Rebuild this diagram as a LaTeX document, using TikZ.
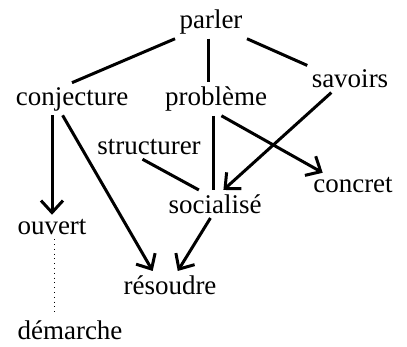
\documentclass[tikz,border=0pt]{standalone}
\usepackage{fontspec}
\setmainfont{Liberation Serif}
\usetikzlibrary{arrows.meta}
\begin{document}
\begin{tikzpicture}[x=0.5pt, y=-0.5pt, line width=1.5pt,
  mot/.style={inner sep=1.5pt, font=\fontsize{13.5}{16}\selectfont},
  fl/.style={-{Straight Barb[length=6pt, width=11pt, line width=1.5pt]}},
  >=stealth]
\useasboundingbox (0,0) rectangle (407,347);
\node[mot] (parler) at (211,22) {parler};
\node[mot] (conj) at (72,99) {conjecture};
\node[mot] (prob) at (216,99) {problème};
\node[mot] (sav) at (350,79) {savoirs};
\node[mot] (struct) at (149,147) {structurer};
\node[mot] (concret) at (353,185) {concret};
\node[mot] (soc) at (215,204) {socialisé};
\node[mot] (ouvert) at (52,227) {ouvert};
\node[mot] (res) at (170,285) {résoudre};
\node[mot] (dem) at (70,330) {démarche};
% liens
\draw (parler.south west) -- (conj.north);
\draw ([xshift=-1.5pt]parler.south) -- ([xshift=-1.5pt]parler.south |- prob.north);
\draw (parler.south east) -- (sav.north west);
\draw (prob.-100) -- (prob.-100 |- soc.north);
\draw (struct.-118) -- (soc.139);
\draw[fl] (conj.south -| ouvert.north) -- (ouvert.north);
\draw[fl] (conj.240) -- (res.141);
\draw[fl] (prob.-72) -- (concret.158);
\draw[fl] (sav.216) -- (soc.59);
\draw[fl] (soc.252) -- (res.61);
\draw[line width=0.4pt, dotted] ([xshift=1pt]ouvert.south) -- ([xshift=1pt]ouvert.south |- dem.north);
\end{tikzpicture}
\end{document}
